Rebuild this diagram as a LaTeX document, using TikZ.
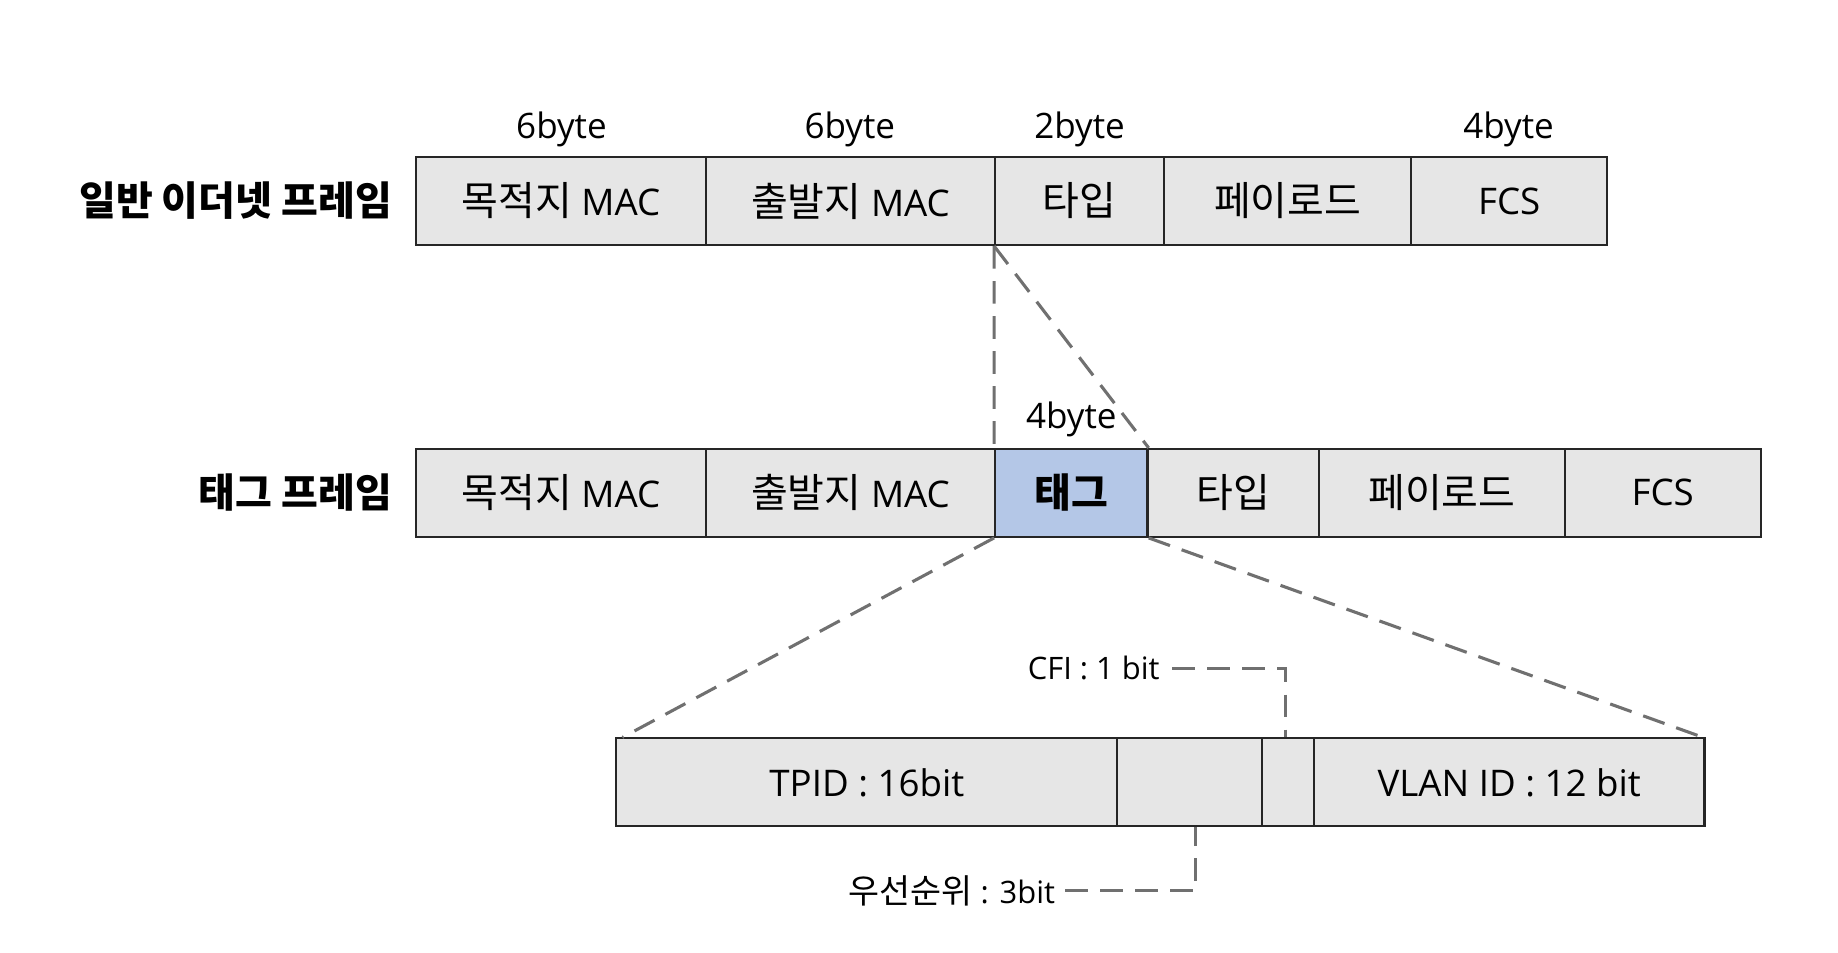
\documentclass[tikz,border=0pt]{standalone}
\usepackage{fontspec}
\setmainfont{Open Sans}
\newfontfamily\kr[Scale=1.09]{Noto Sans CJK KR}
\newfontfamily\krt{Noto Sans CJK KR}
\definecolor{cellfill}{HTML}{E6E6E6}
\definecolor{tagfill}{HTML}{B4C7E7}
\definecolor{edge}{HTML}{262626}
\definecolor{dashc}{HTML}{707070}
\begin{document}
\begin{tikzpicture}[x=0.01cm,y=-0.01cm,
  cell/.style={draw=edge,line width=0.5pt,fill=cellfill,minimum height=0.75cm,inner sep=0pt,font=\fontsize{8.9}{10}\selectfont},
  tagcell/.style={cell,fill=tagfill,font=\fontsize{8.9}{10}\selectfont\kr\bfseries},
  bytelbl/.style={inner sep=0pt,font=\fontsize{8.5}{10}\selectfont},
  title/.style={inner sep=0pt,anchor=east,font=\fontsize{9.7}{11}\selectfont\krt\bfseries},
  small/.style={inner sep=0pt,font=\fontsize{7.5}{9}\selectfont},
  dashline/.style={draw=dashc,line width=0.75pt,dash pattern=on 5.5pt off 3pt}]
\useasboundingbox (0,0) rectangle (1568,813);
% row 1
\node[title] (t1) at (335,171) {일반 이더넷 프레임};
\node[cell,minimum width=2.47cm] (a1) at (478.5,171.5) {{\kr 목적지} MAC};
\node[cell,minimum width=2.47cm] (a2) at (725.5,171.5) {{\kr 출발지} MAC};
\node[cell,minimum width=1.44cm] (a3) at (921,171.5) {\kr 타입};
\node[cell,minimum width=2.11cm] (a4) at (1098.5,171.5) {\kr 페이로드};
\node[cell,minimum width=1.67cm] (a5) at (1287.5,171.5) {FCS};
\node[bytelbl] (b1) at (479,110) {6byte};
\node[bytelbl] (b2) at (725,110) {6byte};
\node[bytelbl] (b3) at (921,110) {2byte};
\node[bytelbl] (b4) at (1287,110) {4byte};
% row 2
\node[title] (t2) at (335,420) {태그 프레임};
\node[cell,minimum width=2.47cm] (c1) at (478.5,420.5) {{\kr 목적지} MAC};
\node[cell,minimum width=2.47cm] (c2) at (725.5,420.5) {{\kr 출발지} MAC};
\node[tagcell,minimum width=1.30cm] (c3) at (914,420.5) {태그};
\node[cell,minimum width=1.46cm] (c4) at (1052,420.5) {\kr 타입};
\node[cell,minimum width=2.10cm] (c5) at (1230,420.5) {\kr 페이로드};
\node[cell,minimum width=1.67cm] (c6) at (1418.5,420.5) {FCS};
\node[bytelbl] (b5) at (914,358) {4byte};
% row 3
\node[cell,minimum width=4.27cm] (d1) at (739.5,667.5) {TPID : 16bit};
\node[cell,minimum width=1.24cm] (d2) at (1015,667.5) {};
\node[cell,minimum width=0.44cm] (d3) at (1099,667.5) {};
\node[cell,minimum width=3.33cm] (d4) at (1287.5,667.5) {VLAN ID : 12 bit};
% dashed connectors
\draw[dashline] (a3.south west) -- (c3.north west);
\draw[dashline] (a3.south west) -- (c3.north east);
\draw[dashline] (c3.south west) -- ([xshift=0.06cm]d1.north west);
\draw[dashline] (c3.south east) -- ([xshift=-0.02cm]d4.north east);
% CFI
\node[small,anchor=east] (cfi) at (990,570) {CFI : 1 bit};
\coordinate (cfik) at ([xshift=-0.02cm]d3.north |- cfi);
\draw[dashline] ([xshift=0.1cm]cfi.east) -- (cfik) -- ([xshift=-0.02cm]d3.north);
% priority
\node[small] (pri) at (812,760) {{\kr 우선순위} : 3bit};
\coordinate (prik) at ([xshift=0.05cm]d2.south |- pri);
\draw[dashline] ([xshift=0.08cm]pri.east) -- (prik) -- ([xshift=0.05cm]d2.south);
\end{tikzpicture}
\end{document}
